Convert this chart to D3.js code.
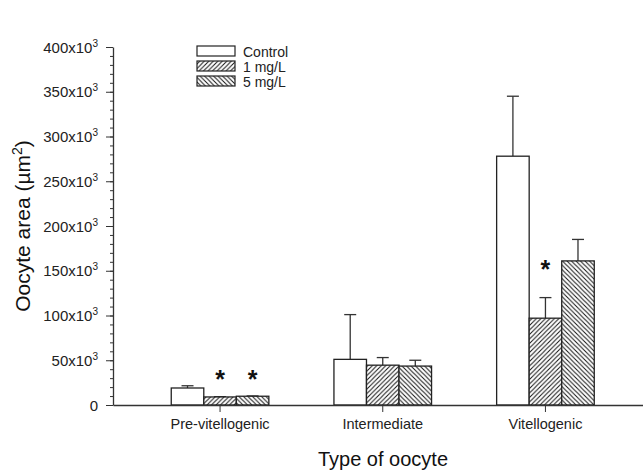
<!DOCTYPE html>
<html><head><meta charset="utf-8">
<script src="https://cdn.jsdelivr.net/npm/d3@7"></script>
<style>body{margin:0;background:#fff}svg{display:block;font-family:"Liberation Sans",Arial,sans-serif}</style>
</head><body><svg id="c" width="643" height="472"></svg>
<script>
const categories = ["Pre-vitellogenic", "Intermediate", "Vitellogenic"];
const seriesNames = ["Control", "1 mg/L", "5 mg/L"];
const controlMean = [19000, 51000, 278000];
const controlErr  = [2500, 50000, 67000];
const mg1Mean     = [9000, 44500, 97000];
const mg1Err      = [300, 8500, 23000];
const mg5Mean     = [9800, 43500, 161000];
const mg5Err      = [300, 6500, 24000];
const significant = [[false,true,true],[false,false,false],[false,true,false]]; // [category][series]
const starLevel   = [33500, 0, 156000]; // height of the significance asterisks per category
const yTicks = [0, 50000, 100000, 150000, 200000, 250000, 300000, 350000, 400000];

const svg = d3.select("#c");
const mLeft = 113, mRight = 652.5, mTop = 47, mBottom = 405;
const x = d3.scaleBand().domain(categories).range([mLeft, mRight]).paddingInner(0.4).paddingOuter(0.358);
const y = d3.scaleLinear().domain([0, 400000]).range([mBottom, mTop]);
const xs = d3.scaleBand().domain(seriesNames).range([0, x.bandwidth()]);

const defs = svg.append("defs");
function hatch(id, dir){
  const p = defs.append("pattern").attr("id", id).attr("patternUnits","userSpaceOnUse")
    .attr("width", 4.5).attr("height", 4.5);
  p.append("rect").attr("width",4.5).attr("height",4.5).attr("fill","#fff");
  if (dir>0){
    p.append("path").attr("d","M-1,1 L1,-1 M0,4.5 L4.5,0 M3.5,5.5 L5.5,3.5").attr("stroke","#111").attr("stroke-width",1);
  } else {
    p.append("path").attr("d","M-1,3.5 L1,5.5 M0,0 L4.5,4.5 M3.5,-1 L5.5,1").attr("stroke","#111").attr("stroke-width",1);
  }
}
hatch("h1", 1); hatch("h5", -1);
const fills = ["#fff", "url(#h1)", "url(#h5)"];

const means = [controlMean, mg1Mean, mg5Mean];
const errs = [controlErr, mg1Err, mg5Err];
const rows = [];
categories.forEach((c, ci) => seriesNames.forEach((s, si) => rows.push({c, s, ci, si, v: means[si][ci], e: errs[si][ci], sig: significant[ci][si]})));

const bw = xs.bandwidth();
const eb = svg.append("g").attr("stroke","#333").attr("stroke-width",1.3);
rows.forEach(d => {
  const cx = x(d.c) + xs(d.s) + bw/2;
  eb.append("line").attr("x1",cx).attr("x2",cx).attr("y1",y(d.v)).attr("y2",y(d.v+d.e));
  eb.append("line").attr("x1",cx-6).attr("x2",cx+6).attr("y1",y(d.v+d.e)).attr("y2",y(d.v+d.e));
});
svg.append("g").selectAll("rect").data(rows).join("rect")
  .attr("x", d => x(d.c) + xs(d.s)).attr("width", bw)
  .attr("y", d => y(d.v)).attr("height", d => y(0) - y(d.v))
  .attr("fill", d => fills[d.si]).attr("stroke","#222").attr("stroke-width",1.3);

svg.append("g").selectAll("text").data(rows.filter(d => d.sig)).join("text")
  .attr("x", d => x(d.c) + xs(d.s) + bw/2)
  .attr("y", d => y(starLevel[d.ci]) + 13)
  .attr("text-anchor","middle").attr("font-size",25).attr("font-weight","bold").attr("fill","#111").text("*");

const ya = svg.append("g").attr("transform",`translate(${mLeft},0)`)
  .call(d3.axisLeft(y).tickValues(d3.range(0, 400001, 10000)).tickSize(3).tickFormat(""));
ya.selectAll(".tick line").attr("stroke","#333");
ya.select(".domain").remove();
const yb = svg.append("g").attr("transform",`translate(${mLeft},0)`)
  .call(d3.axisLeft(y).tickValues(yTicks).tickSize(7).tickSizeOuter(0).tickFormat(""));
yb.select(".domain").attr("stroke","#333").attr("stroke-width",1.3);
yb.selectAll(".tick line").attr("stroke","#333");
yTicks.forEach(v => {
  const t = svg.append("text").attr("x", mLeft - 15).attr("y", y(v) + 5.5).attr("text-anchor","end")
    .attr("font-size",15).attr("fill","#222");
  if (v === 0) t.text("0");
  else { t.append("tspan").text((v/1000) + "x10"); t.append("tspan").attr("dy",-6).attr("font-size",10).text("3"); }
});

const xa = svg.append("g").attr("transform",`translate(0,${mBottom})`)
  .call(d3.axisBottom(x).tickSize(7).tickSizeOuter(0).tickPadding(7));
xa.select(".domain").attr("stroke","#333").attr("stroke-width",1.3);
xa.selectAll(".tick line").attr("stroke","#333");
xa.selectAll(".tick text").attr("font-size",14.5).attr("fill","#222").attr("font-family","Liberation Sans, Arial, sans-serif");

svg.append("text").attr("x", 383).attr("y", 466).attr("text-anchor","middle").attr("font-size",20).attr("fill","#111").text("Type of oocyte");
const yt = svg.append("text").attr("transform",`translate(30,${(mTop+mBottom)/2}) rotate(-90)`).attr("text-anchor","middle").attr("font-size",21).attr("fill","#111");
yt.append("tspan").text("Oocyte area (µm");
yt.append("tspan").attr("dy",-8).attr("font-size",14).text("2");
yt.append("tspan").attr("dy",8).text(")");

const lg = svg.append("g").attr("transform","translate(197,46)");
seriesNames.forEach((s, i) => {
  lg.append("rect").attr("x",0).attr("y", i*15).attr("width",38).attr("height",10)
    .attr("fill", fills[i]).attr("stroke","#222").attr("stroke-width",1.2);
  lg.append("text").attr("x",46).attr("y", i*15 + 10.5).attr("font-size",14).attr("fill","#222").text(s);
});
</script></body></html>
